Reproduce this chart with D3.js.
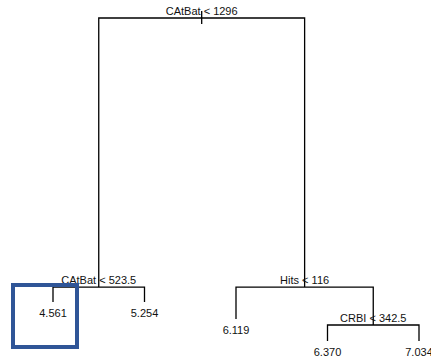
<!DOCTYPE html>
<html lang="en">
<head>
    <meta charset="utf-8">
    <title></title>
    <script src="https://d3js.org/d3.v7.min.js"></script>
    <style type="text/css">
        body{
            margin: 0;
            background: white;
        }
        .labels{
            font-size: 11px;
            font-family: "Liberation Sans", Arial, sans-serif;
            fill: #111;
        }
    </style>
</head>
<body>
    <div id="frame"></div>
    <script type="text/javascript">

        // tree nodes, R numbering: children of n are 2n and 2n+1
        const nodeIds    = [1, 2, 3, 4, 5, 6, 7, 14, 15];
        const nodeLabels = ["CAtBat < 1296", "CAtBat < 523.5", "Hits < 116", "4.561", "5.254", "6.119", "CRBI < 342.5", "6.370", "7.034"];
        const nodeDev    = [207.2, 44.2, 44.2, 35.1, 35.1, 24.8, 21.2, 11.5, 11.5];
        const leafIds    = [4, 5, 6, 14, 15];

        const w = 431, h = 363;

        const svg = d3.select("#frame").append("svg")
            .attr("width", w)
            .attr("height", h);

        const x = d3.scalePoint()
            .domain(leafIds)
            .range([53, 419]);

        const y = d3.scaleLinear()
            .domain([0, 207.2])
            .range([360, 18]);

        const nodes = {};
        nodeIds.forEach((id, i) => {
            nodes[id] = {id: id, label: nodeLabels[i], dev: nodeDev[i]};
        });

        //x of internal nodes = middle of children
        function posX(id){
            const n = nodes[id];
            if (n.x !== undefined) return n.x;
            if (nodes[2 * id]) n.x = (posX(2 * id) + posX(2 * id + 1)) / 2;
            else n.x = x(id);
            return n.x;
        }
        nodeIds.forEach(posX);

        const g = svg.append("g")
            .attr("stroke", "black")
            .attr("stroke-width", 1.3)
            .attr("fill", "none");

        //root tick
        g.append("line")
            .attr("x1", nodes[1].x).attr("x2", nodes[1].x)
            .attr("y1", y(nodes[1].dev) - 7).attr("y2", y(nodes[1].dev) + 6);

        nodeIds.filter(id => nodes[2 * id]).forEach(id => {
            const p = nodes[id], l = nodes[2 * id], r = nodes[2 * id + 1];
            g.append("path")
                .attr("d", "M" + l.x + "," + y(l.dev) + "V" + y(p.dev) + "H" + r.x + "V" + y(r.dev));
        });

        //split labels
        svg.selectAll("text.split")
            .data(nodeIds.filter(id => nodes[2 * id]))
            .enter()
            .append("text")
            .attr("class", "labels split")
            .attr("text-anchor", "middle")
            .attr("x", id => nodes[id].x)
            .attr("y", id => y(nodes[id].dev) - 3)
            .text(id => nodes[id].label);

        //leaf values
        svg.selectAll("text.leaf")
            .data(leafIds)
            .enter()
            .append("text")
            .attr("class", "labels leaf")
            .attr("text-anchor", "middle")
            .attr("x", id => nodes[id].x)
            .attr("y", id => y(nodes[id].dev) + 15)
            .text(id => nodes[id].label);

        //highlight box on the first leaf
        svg.append("rect")
            .attr("x", 13)
            .attr("y", 285)
            .attr("width", 64)
            .attr("height", 62)
            .attr("fill", "none")
            .attr("stroke", "#2f5597")
            .attr("stroke-width", 4);

    </script>
</body>
</html>
